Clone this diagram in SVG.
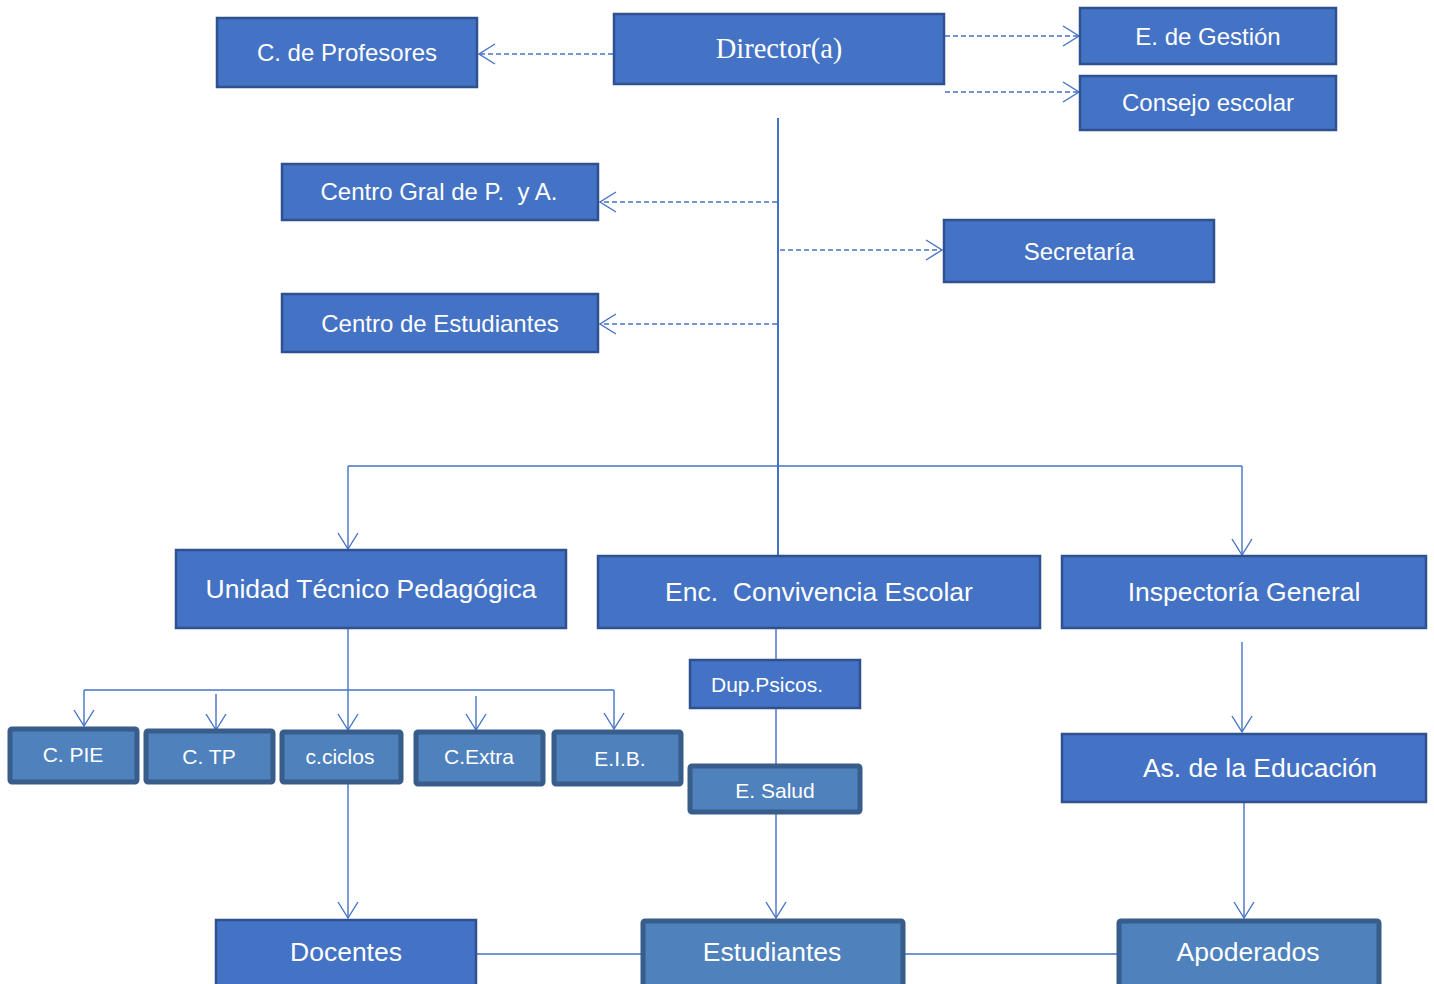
<svg xmlns="http://www.w3.org/2000/svg" width="1434" height="984" viewBox="0 0 1434 984">
<style>
.box{fill:#4472C4;stroke:#2F528F;stroke-width:2.5}
.tbox{fill:#4F81BD;stroke:#385D8A;stroke-width:5}
.t{font-family:"Liberation Sans",Arial,sans-serif;fill:#FFFFFF;text-anchor:middle}
.ser{font-family:"Liberation Serif","Times New Roman",serif;fill:#FFFFFF;text-anchor:middle}
.ln{fill:none;stroke:#4472C4;stroke-width:1.4}
.dash{fill:none;stroke:#4472C4;stroke-width:1.4;stroke-dasharray:5 3}
</style>
<defs>
<marker id="arr" markerUnits="userSpaceOnUse" markerWidth="24" markerHeight="24" viewBox="-18 -12 20 24" refX="0" refY="0" orient="auto">
<path d="M-16,-10 L0,0 L-16,10" fill="none" stroke="#4472C4" stroke-width="1.4"/>
</marker>
</defs>
<rect width="1434" height="984" fill="#FFFFFF"/>
<g id="connectors">
<path class="dash" d="M613,54 L479,54" marker-end="url(#arr)"/>
<path class="dash" d="M945,36 L1079,36" marker-end="url(#arr)"/>
<path class="dash" d="M945,92 L1079,92" marker-end="url(#arr)"/>
<path class="ln" d="M778,118 L778,556" style="stroke-width:2"/>
<path class="dash" d="M777,202 L600,202" marker-end="url(#arr)"/>
<path class="dash" d="M780,250 L942,250" marker-end="url(#arr)"/>
<path class="dash" d="M777,324 L600,324" marker-end="url(#arr)"/>
<path class="ln" d="M348,466 L1242,466"/>
<path class="ln" d="M348,466 L348,549" marker-end="url(#arr)"/>
<path class="ln" d="M1242,466 L1242,555" marker-end="url(#arr)"/>
<path class="ln" d="M348,628 L348,730" marker-end="url(#arr)"/>
<path class="ln" d="M84,690 L614,690"/>
<path class="ln" d="M84,690 L84,726" marker-end="url(#arr)"/>
<path class="ln" d="M216,694 L216,730" marker-end="url(#arr)"/>
<path class="ln" d="M476,696 L476,730" marker-end="url(#arr)"/>
<path class="ln" d="M614,690 L614,729" marker-end="url(#arr)"/>
<path class="ln" d="M348,782 L348,918" marker-end="url(#arr)"/>
<path class="ln" d="M776,628 L776,660"/>
<path class="ln" d="M776,708 L776,766"/>
<path class="ln" d="M776,813 L776,918" marker-end="url(#arr)"/>
<path class="ln" d="M1242,642 L1242,732" marker-end="url(#arr)"/>
<path class="ln" d="M1244,802 L1244,918" marker-end="url(#arr)"/>
<path class="ln" d="M476,954 L641,954"/>
<path class="ln" d="M903,954 L1117,954"/>
</g>
<g id="director"><rect class="box" x="614" y="14" width="330" height="70"/><text class="ser" x="779" y="58" font-size="28.5">Director(a)</text></g>
<g id="profesores"><rect class="box" x="217" y="18" width="260" height="69"/><text class="t" x="347" y="61" font-size="24">C. de Profesores</text></g>
<g id="gestion"><rect class="box" x="1080" y="8" width="256" height="56"/><text class="t" x="1208" y="45" font-size="24">E. de Gestión</text></g>
<g id="consejo"><rect class="box" x="1080" y="76" width="256" height="54"/><text class="t" x="1208" y="111" font-size="24">Consejo escolar</text></g>
<g id="centro-gral"><rect class="box" x="282" y="164" width="316" height="56"/><text class="t" x="439" y="200" font-size="24" xml:space="preserve">Centro Gral de P.  y A.</text></g>
<g id="secretaria"><rect class="box" x="944" y="220" width="270" height="62"/><text class="t" x="1079" y="260" font-size="24">Secretaría</text></g>
<g id="centro-est"><rect class="box" x="282" y="294" width="316" height="58"/><text class="t" x="440" y="332" font-size="24">Centro de Estudiantes</text></g>
<g id="utp"><rect class="box" x="176" y="550" width="390" height="78"/><text class="t" x="371" y="598" font-size="26.5">Unidad Técnico Pedagógica</text></g>
<g id="convivencia"><rect class="box" x="598" y="556" width="442" height="72"/><text class="t" x="819" y="601" font-size="26.5" xml:space="preserve">Enc.  Convivencia Escolar</text></g>
<g id="inspectoria"><rect class="box" x="1062" y="556" width="364" height="72"/><text class="t" x="1244" y="601" font-size="26.5">Inspectoría General</text></g>
<g id="pie"><rect class="tbox" x="10" y="729" width="127" height="53" rx="2"/><text class="t" x="73" y="762" font-size="21">C. PIE</text></g>
<g id="tp"><rect class="tbox" x="146" y="731" width="127" height="51" rx="2"/><text class="t" x="209" y="764" font-size="21">C. TP</text></g>
<g id="ciclos"><rect class="tbox" x="282" y="732" width="119" height="50" rx="2"/><text class="t" x="340" y="764" font-size="21">c.ciclos</text></g>
<g id="extra"><rect class="tbox" x="416" y="732" width="127" height="52" rx="2"/><text class="t" x="479" y="764" font-size="21">C.Extra</text></g>
<g id="eib"><rect class="tbox" x="554" y="732" width="127" height="52" rx="2"/><text class="t" x="620" y="766" font-size="21">E.I.B.</text></g>
<g id="psicos"><rect class="box" x="690" y="660" width="170" height="48"/><text class="t" x="767" y="692" font-size="21">Dup.Psicos.</text></g>
<g id="salud"><rect class="tbox" x="690" y="766" width="170" height="46" rx="2"/><text class="t" x="775" y="798" font-size="21">E. Salud</text></g>
<g id="asistentes"><rect class="box" x="1062" y="734" width="364" height="68"/><text class="t" x="1260" y="777" font-size="26.5">As. de la Educación</text></g>
<g id="docentes"><rect class="box" x="216" y="920" width="260" height="72"/><text class="t" x="346" y="961" font-size="26.5">Docentes</text></g>
<g id="estudiantes"><rect class="tbox" x="643" y="921" width="260" height="72" rx="2"/><text class="t" x="772" y="961" font-size="26.5">Estudiantes</text></g>
<g id="apoderados"><rect class="tbox" x="1119" y="921" width="260" height="72" rx="2"/><text class="t" x="1248" y="961" font-size="26.5">Apoderados</text></g>
</svg>
